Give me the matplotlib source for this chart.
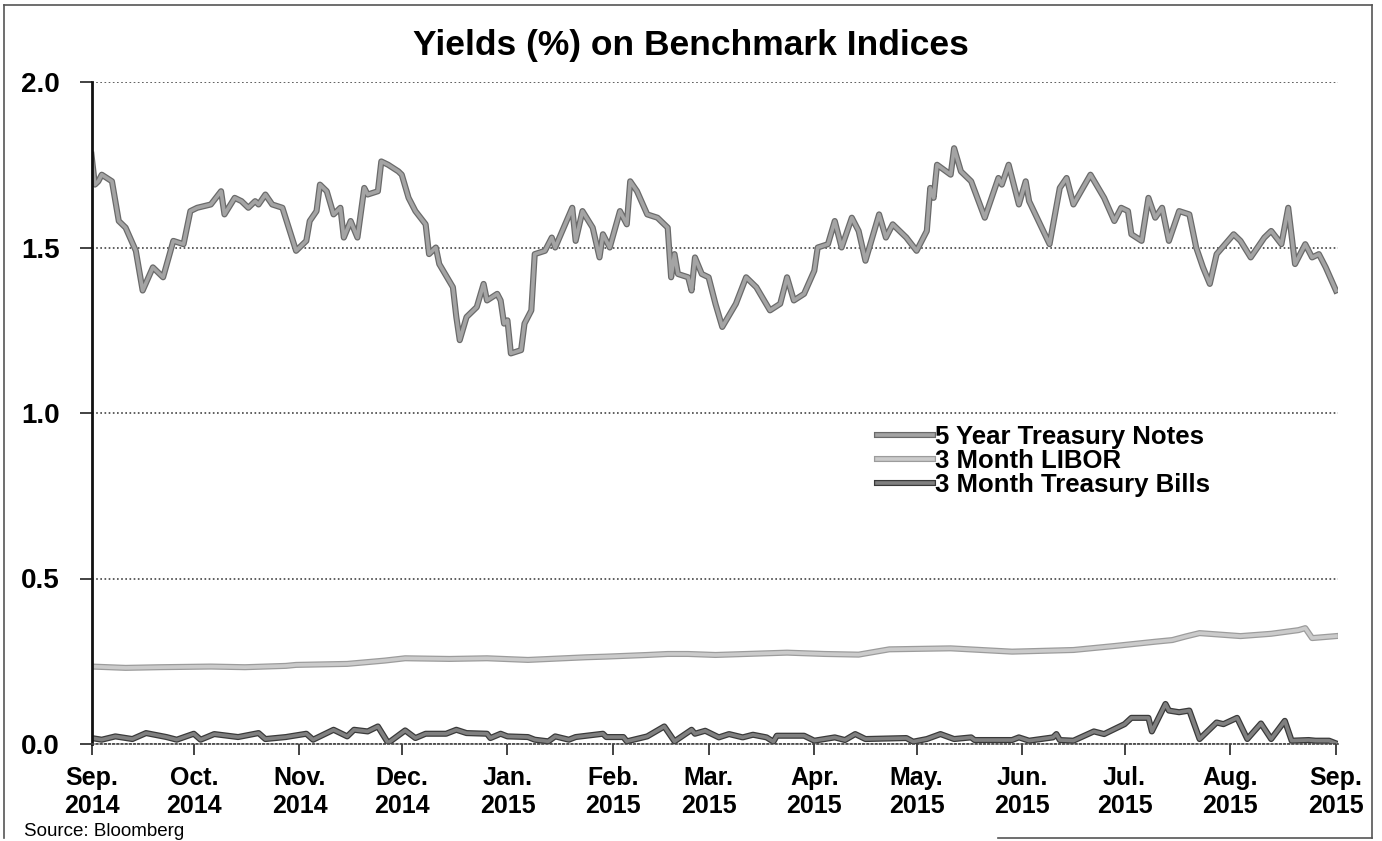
import numpy as np
import pandas as pd
import matplotlib
matplotlib.use("Agg")
import matplotlib.pyplot as plt
import matplotlib.patheffects as pe
from matplotlib.lines import Line2D

plt.rcParams['font.family'] = ['Liberation Sans', 'DejaVu Sans']

# Datos (dias desde el 1 sep 2014, rendimiento en %)
start = pd.Timestamp('2014-09-01')

notes_days = [0, 1, 2, 3, 6, 8, 10, 13, 15, 18, 21, 24, 27, 29, 31, 35, 38, 39, 42, 44,
              46, 48, 49, 51, 53, 56, 60, 63, 64, 66, 67, 69, 71, 73, 74, 76, 78, 80, 81, 84,
              85, 87, 90, 91, 93, 95, 98, 99, 101, 102, 106, 107, 108, 110, 113, 115, 116, 119, 120, 121,
              122, 123, 126, 127, 129, 130, 133, 135, 136, 141, 142, 144, 147, 149, 150, 152, 155, 157, 158, 160,
              163, 166, 169, 170, 171, 172, 175, 176, 177, 179, 181, 183, 185, 189, 192, 195, 199, 202, 204, 206,
              209, 212, 213, 216, 218, 220, 223, 225, 227, 231, 233, 235, 239, 242, 245, 246, 247, 248, 252, 253,
              255, 258, 262, 266, 267, 269, 272, 274, 275, 281, 284, 286, 288, 293, 297, 300, 302, 304, 305, 308,
              310, 312, 314, 316, 319, 322, 324, 326, 328, 330, 335, 337, 340, 344, 346, 349, 351, 353, 356, 358,
              360, 362, 365]
notes = [1.78, 1.69, 1.70, 1.72, 1.70, 1.58, 1.56, 1.49, 1.37, 1.44, 1.41, 1.52, 1.51, 1.61, 1.62, 1.63, 1.67, 1.60, 1.65, 1.64,
         1.62, 1.64, 1.63, 1.66, 1.63, 1.62, 1.49, 1.52, 1.58, 1.61, 1.69, 1.67, 1.60, 1.62, 1.53, 1.58, 1.53, 1.68, 1.66, 1.67,
         1.76, 1.75, 1.73, 1.72, 1.65, 1.61, 1.57, 1.48, 1.50, 1.45, 1.38, 1.29, 1.22, 1.29, 1.32, 1.39, 1.34, 1.36, 1.34, 1.27,
         1.28, 1.18, 1.19, 1.27, 1.31, 1.48, 1.49, 1.53, 1.50, 1.62, 1.52, 1.61, 1.56, 1.47, 1.54, 1.50, 1.61, 1.57, 1.70, 1.67,
         1.60, 1.59, 1.56, 1.41, 1.48, 1.42, 1.41, 1.37, 1.47, 1.42, 1.41, 1.33, 1.26, 1.33, 1.41, 1.38, 1.31, 1.33, 1.41, 1.34,
         1.36, 1.43, 1.50, 1.51, 1.58, 1.50, 1.59, 1.55, 1.46, 1.60, 1.53, 1.57, 1.53, 1.49, 1.55, 1.68, 1.65, 1.75, 1.72, 1.80,
         1.73, 1.70, 1.59, 1.71, 1.69, 1.75, 1.63, 1.70, 1.64, 1.51, 1.68, 1.71, 1.63, 1.72, 1.65, 1.58, 1.62, 1.61, 1.54, 1.52,
         1.65, 1.59, 1.62, 1.52, 1.61, 1.60, 1.50, 1.44, 1.39, 1.48, 1.54, 1.52, 1.47, 1.53, 1.55, 1.51, 1.62, 1.45, 1.51, 1.47,
         1.48, 1.44, 1.37]

libor_days = [0, 10, 20, 35, 45, 57, 60, 75, 86, 92, 105, 116, 128, 145, 151, 163, 169, 175, 183, 204,
              215, 225, 234, 252, 270, 288, 300, 312, 317, 321, 325, 337, 346, 354, 356, 358, 365]
libor = [0.234, 0.230, 0.232, 0.234, 0.232, 0.236, 0.239, 0.242, 0.252, 0.259, 0.257, 0.259, 0.254, 0.262, 0.264, 0.269, 0.272, 0.272, 0.269, 0.276,
         0.272, 0.270, 0.286, 0.289, 0.279, 0.284, 0.296, 0.309, 0.314, 0.325, 0.335, 0.326, 0.333, 0.344, 0.350, 0.320, 0.326]

bills_days = [0, 3, 7, 12, 16, 22, 25, 30, 32, 36, 43, 49, 51, 57, 63, 65, 71, 75, 77, 81,
              84, 87, 92, 95, 98, 104, 107, 110, 116, 117, 120, 122, 128, 130, 134, 136, 140, 142, 150, 151,
              156, 157, 163, 168, 171, 176, 177, 180, 184, 187, 191, 194, 198, 200, 201, 209, 212, 215, 218, 221,
              224, 227, 239, 241, 245, 249, 253, 258, 259, 264, 270, 272, 275, 282, 283, 284, 288, 294, 297, 300,
              303, 305, 310, 311, 315, 316, 319, 322, 325, 330, 332, 336, 339, 343, 346, 350, 352, 357, 359, 363,
              365]
bills = [0.018, 0.013, 0.023, 0.015, 0.033, 0.021, 0.013, 0.031, 0.013, 0.030, 0.021, 0.033, 0.015, 0.021, 0.031, 0.013, 0.043, 0.023, 0.043, 0.038,
         0.053, 0.003, 0.041, 0.018, 0.031, 0.031, 0.043, 0.033, 0.031, 0.018, 0.031, 0.023, 0.021, 0.013, 0.008, 0.023, 0.013, 0.021, 0.031, 0.021,
         0.021, 0.008, 0.023, 0.053, 0.008, 0.043, 0.031, 0.040, 0.020, 0.030, 0.020, 0.028, 0.020, 0.007, 0.025, 0.025, 0.010, 0.015, 0.020, 0.012,
         0.030, 0.015, 0.018, 0.007, 0.015, 0.030, 0.015, 0.020, 0.012, 0.012, 0.012, 0.020, 0.010, 0.020, 0.030, 0.012, 0.010, 0.038, 0.030, 0.045,
         0.060, 0.079, 0.079, 0.038, 0.121, 0.101, 0.096, 0.101, 0.015, 0.065, 0.060, 0.079, 0.015, 0.062, 0.015, 0.070, 0.010, 0.012, 0.010, 0.010,
         0.002]

month_labels = ['Sep.\n2014', 'Oct.\n2014', 'Nov.\n2014', 'Dec.\n2014', 'Jan.\n2015', 'Feb.\n2015', 'Mar.\n2015',
                'Apr.\n2015', 'May.\n2015', 'Jun.\n2015', 'Jul.\n2015', 'Aug.\n2015', 'Sep.\n2015']


def to_dates(days):
    return start + pd.to_timedelta(days, unit='D')


fig = plt.figure(figsize=(13.82, 8.41), dpi=100)
ax = fig.add_axes([91.5 / 1382, 97 / 841, 1246.5 / 1382, 662 / 841])

# Lineas con borde oscuro para imitar el escaneo
series = [
    (notes_days, notes, '5 Year Treasury Notes', '#a4a4a4', '#6a6a6a'),
    (libor_days, libor, '3 Month LIBOR', '#cbcbcb', '#9c9c9c'),
    (bills_days, bills, '3 Month Treasury Bills', '#808080', '#3a3a3a'),
]
for d, v, name, inner, edge in series:
    ax.plot(to_dates(d), v, color=inner, lw=2.6, label=name, solid_joinstyle='round',
            path_effects=[pe.Stroke(linewidth=4.4, foreground=edge), pe.Normal()])

ax.set_ylim(0, 2.0)
ax.set_xlim(start, start + pd.Timedelta(days=365.6))
ax.set_yticks([0, 0.5, 1.0, 1.5, 2.0])
ax.set_yticklabels(['0.0', '0.5', '1.0', '1.5', '2.0'], fontsize=20, fontweight='bold')
ticks = pd.date_range('2014-09-01', '2015-09-01', freq='MS')
ax.set_xticks(ticks)
ax.set_xticklabels(month_labels, fontsize=18, fontweight='bold', linespacing=1.2)
ax.tick_params(axis='y', length=9, width=1.2, pad=14, color='#222')
ax.tick_params(axis='x', length=8, width=1.2, pad=8, color='#222')

# Rejilla punteada
ax.grid(axis='y', linestyle=(0, (1, 1.5)), color='#444', lw=1.2)
ax.set_axisbelow(True)
for s in ['top', 'right']:
    ax.spines[s].set_visible(False)
ax.spines['left'].set_linewidth(2)
ax.spines['left'].set_color('#111')
ax.spines['bottom'].set_linestyle((0, (1, 1.5)))
ax.spines['bottom'].set_color('#444')
ax.spines['bottom'].set_linewidth(1.2)

leg = ax.legend(loc='upper left', bbox_to_anchor=(864 / 1382, 1 - 412 / 841),
                bbox_transform=fig.transFigure, frameon=False,
                prop={'size': 18.5, 'weight': 'bold'}, handlelength=2.2,
                handletextpad=0.05, labelspacing=0.0, borderpad=0)

fig.text(0.5, 1 - 45 / 841, 'Yields (%) on Benchmark Indices', ha='center', va='center',
         fontsize=25.5, fontweight='bold')
fig.text(24 / 1382, 1 / 841, 'Source: Bloomberg', ha='left', va='bottom', fontsize=13.5)

# Marco exterior
for xs, ys in [([4, 4], [838, 5]), ([4, 1372], [5, 5]), ([1372, 1372], [5, 838]), ([998, 1372], [838, 838])]:
    fig.add_artist(Line2D([x / 1382 for x in xs], [1 - y / 841 for y in ys],
                          transform=fig.transFigure, color='#555', lw=1.2))

fig.savefig('out.png', dpi=100)
